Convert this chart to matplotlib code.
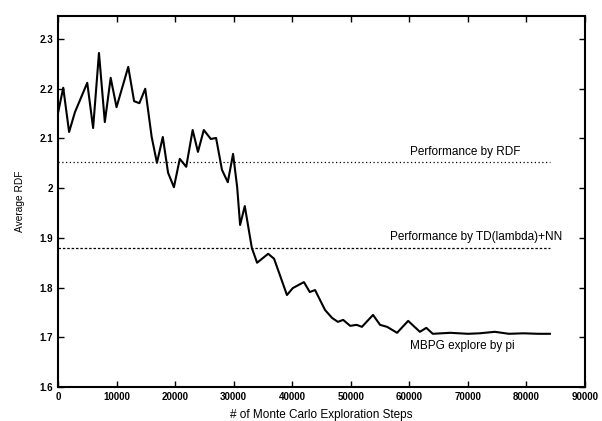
import matplotlib
matplotlib.use("Agg")
import matplotlib.pyplot as plt

steps = [0, 900, 1900, 2900, 5000, 6000, 7000, 8000, 9000, 10000, 12000, 13000,
         13900, 14900, 16000, 16900, 17900, 18800, 19800, 20800, 21900, 23000,
         23900, 24900, 26100, 27000, 28000, 29000, 29900, 30600, 31100, 31900,
         33100, 34000, 35900, 36900, 37900, 39100, 40100, 42000, 43000, 43900,
         45600, 46800, 47800, 48700, 49900, 51000, 51900, 53800, 55000, 56200,
         57900, 59800, 61800, 62900, 64000, 67000, 70000, 72000, 74600, 77000,
         79500, 82000, 84000]
mbpg = [2.151, 2.202, 2.113, 2.153, 2.212, 2.121, 2.272, 2.133, 2.222, 2.163,
        2.244, 2.175, 2.171, 2.200, 2.103, 2.051, 2.103, 2.031, 2.002, 2.059,
        2.043, 2.117, 2.073, 2.117, 2.099, 2.101, 2.037, 2.012, 2.069, 2.002,
        1.926, 1.964, 1.880, 1.850, 1.868, 1.858, 1.825, 1.785, 1.799, 1.811,
        1.791, 1.795, 1.755, 1.739, 1.731, 1.735, 1.723, 1.725, 1.721, 1.745,
        1.725, 1.721, 1.709, 1.733, 1.711, 1.719, 1.707, 1.709, 1.707, 1.708,
        1.711, 1.707, 1.708, 1.707, 1.707]
rdf_level = 2.052
td_level = 1.879
ref_span = [0, 84000]
xticks = [0, 10000, 20000, 30000, 40000, 50000, 60000, 70000, 80000, 90000]
yticks = [1.6, 1.7, 1.8, 1.9, 2.0, 2.1, 2.2, 2.3]
ytick_labels = ["1.6", "1.7", "1.8", "1.9", "2", "2.1", "2.2", "2.3"]

plt.rcParams['font.family'] = ['Liberation Sans', 'DejaVu Sans']

fig = plt.figure(figsize=(6.02, 4.21), dpi=100)
ax = fig.add_axes([0.0963, 0.0808, 0.8755, 0.8819])

ax.plot(steps, mbpg, color='black', linewidth=1.5)
ax.plot(ref_span, [rdf_level, rdf_level], color='black', linewidth=0.9,
        linestyle=(0, (1, 2)))
ax.plot(ref_span, [td_level, td_level], color='black', linewidth=0.9,
        linestyle=(0, (2, 1.5)))

ax.text(69500, 2.073, "Performance by RDF", ha='center', va='center', fontsize=8.5)
ax.text(71400, 1.902, "Performance by TD(lambda)+NN", ha='center', va='center', fontsize=8.5)
ax.text(69000, 1.682, "MBPG explore by pi", ha='center', va='center', fontsize=8.5)

ax.set_xlim(0, 90000)
ax.set_ylim(1.6, 2.347)
ax.set_xticks(xticks)
ax.set_xticklabels([str(t) for t in xticks], fontsize=7, fontweight='bold')
ax.set_yticks(yticks)
ax.set_yticklabels(ytick_labels, fontsize=7, fontweight='bold')
ax.tick_params(direction='in', top=True, right=True, length=4, width=1)
for s in ax.spines.values():
    s.set_linewidth(1.5)

ax.set_xlabel("# of Monte Carlo Exploration Steps", fontsize=8.5, labelpad=5)
ax.set_ylabel("Average RDF", fontsize=7.3, labelpad=10)

fig.savefig("out.png", dpi=100)
